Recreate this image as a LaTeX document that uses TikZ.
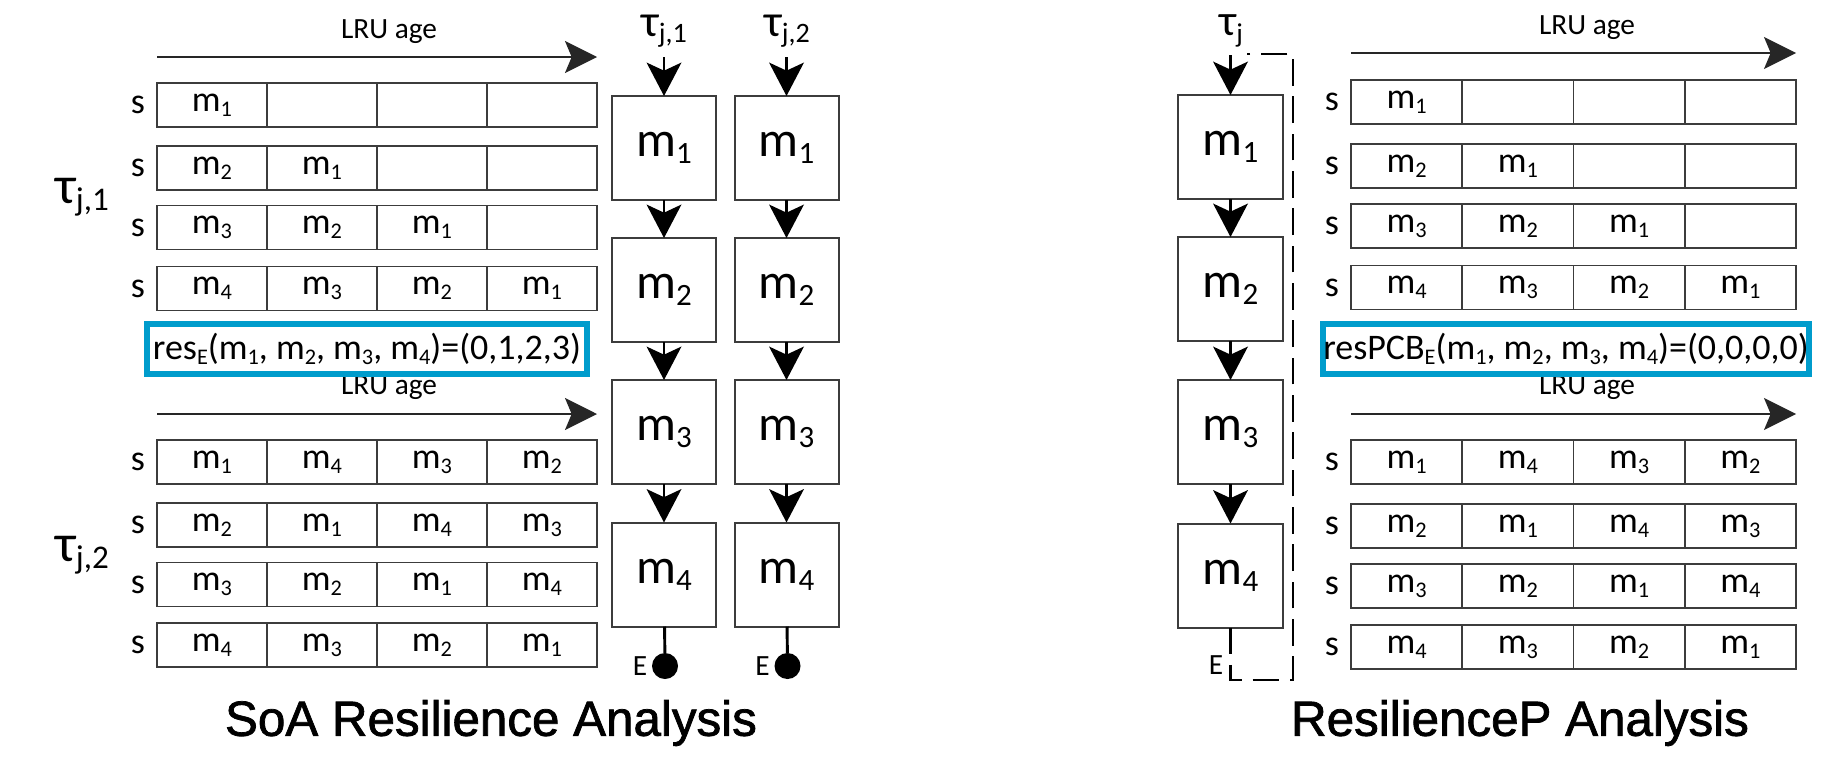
\documentclass[tikz,border=0pt]{standalone}
\usepackage{graphicx}
\usepackage{fontspec}
\setmainfont{Carlito}
\newfontfamily\titlefont[FakeBold=1.5]{Liberation Sans}
\usetikzlibrary{arrows.meta}
\newcommand\lsub[1]{\raisebox{-0.14em}{\scalebox{0.62}{#1}}}
\newcommand\cellc[1]{\ifnum#1=0 \else m\lsub{#1}\fi}
\definecolor{resblue}{RGB}{0,156,204}
\definecolor{edge}{RGB}{60,60,60}
\begin{document}
\begin{tikzpicture}[x=0.75pt,y=-0.75pt,
  cell/.style={draw=edge,line width=1.4pt,minimum width=82.5pt,minimum height=33pt,inner sep=0pt,outer sep=0pt,font=\fontsize{27}{30}\selectfont},
  rcell/.style={cell,minimum width=83.4pt},
  slbl/.style={inner sep=0pt,font=\fontsize{27}{30}\selectfont},
  mbox/.style={draw=edge,line width=1.5pt,minimum width=78pt,minimum height=78pt,inner sep=0pt,outer sep=0pt,font=\fontsize{37.5}{40}\selectfont},
  flow/.style={line width=1.9pt,-{Stealth[length=25pt,width=26pt,inset=6pt]}},
  lruarrow/.style={line width=1.5pt,draw=black!85,-{Stealth[length=24pt,width=24pt,inset=5pt]}},
  lru/.style={inner sep=0pt,font=\fontsize{22}{24}\selectfont},
  tau/.style={inner sep=0pt},
  enddot/.style={circle,fill=black,minimum size=19.5pt,inner sep=0pt,outer sep=0pt},
  elbl/.style={inner sep=0pt,font=\fontsize{22}{24}\selectfont},
  resbox/.style={draw=resblue,line width=4.5pt,minimum height=37.5pt,inner sep=0pt,font=\fontsize{27}{30}\selectfont},
  title/.style={inner sep=0pt,font=\titlefont\fontsize{37}{40}\selectfont},
  dashline/.style={line width=2pt,dash pattern=on 20pt off 8pt}
]
\useasboundingbox (0,0) rectangle (1826,764);

% ---------- left tables ----------
\node[lru] (LRUa) at (389,32) {LRU age};
\coordinate (La0) at (157,57); \coordinate (La1) at (597,57);
\draw[lruarrow] (La0) -- (La1);
\node[lru] (LRUb) at (389,388) {LRU age};
\coordinate (Lb0) at (157,414); \coordinate (Lb1) at (597,414);
\draw[lruarrow] (Lb0) -- (Lb1);

\foreach \r/\y/\a/\b/\c/\d in {1/105/1/0/0/0, 2/168/2/1/0/0, 3/227.5/3/2/1/0, 4/288.5/4/3/2/1,
  5/462/1/4/3/2, 6/525/2/1/4/3, 7/584.5/3/2/1/4, 8/645/4/3/2/1}{
  \node[slbl] (Ls\r) at (138,\y) {s};
  \foreach \k/\v in {1/\a,2/\b,3/\c,4/\d}{
    \node[cell] (L\r-\k) at ({157+110*(\k-0.5)},\y) {\cellc{\v}};
  }
}
\node[tau,font=\fontsize{40}{44}\selectfont] (tauL1) at (82,197) {τ\lsub{j,1}};
\node[tau,font=\fontsize{40}{44}\selectfont] (tauL2) at (82,555) {τ\lsub{j,2}};
\node[resbox,minimum width=330pt] (resL) at (367,349) {res\lsub{E}(m\lsub{1}, m\lsub{2}, m\lsub{3}, m\lsub{4})=(0,1,2,3)};

% ---------- left chains ----------
\foreach \col/\x in {A/664,C/786.5}{
  \node[mbox] (\col1) at (\x,148) {m\lsub{1}};
  \node[mbox] (\col2) at (\x,290) {m\lsub{2}};
  \node[mbox] (\col3) at (\x,432) {m\lsub{3}};
  \node[mbox] (\col4) at (\x,574.5) {m\lsub{4}};
  \coordinate (t\col) at (\x,57);
  \draw[flow] (t\col) -- (\col1);
  \draw[flow] (\col1) -- (\col2);
  \draw[flow] (\col2) -- (\col3);
  \draw[flow] (\col3) -- (\col4);
  \node[enddot] (E\col) at (\x+1,666) {};
  \draw[line width=2.2pt] (\col4) -- (E\col);
  \node[elbl] (El\col) at (\x-24,666) {E};
}
\node[tau,font=\fontsize{34}{38}\selectfont] (tauA) at (664,31) {τ\lsub{j,1}};
\node[tau,font=\fontsize{34}{38}\selectfont] (tauC) at (787,31) {τ\lsub{j,2}};

\node[title] (T1) at (491,723) {SoA Resilience Analysis};

% ---------- right chain ----------
\node[tau,font=\fontsize{33}{36}\selectfont] (tauB) at (1231,31) {τ\lsub{j}};
\coordinate (tB) at (1230.5,55);
\node[mbox,minimum width=78.75pt] (B1) at (1230.5,147) {m\lsub{1}};
\node[mbox,minimum width=78.75pt] (B2) at (1230.5,289) {m\lsub{2}};
\node[mbox,minimum width=78.75pt] (B3) at (1230.5,432) {m\lsub{3}};
\node[mbox,minimum width=78.75pt] (B4) at (1230.5,575.5) {m\lsub{4}};
\draw[flow] (tB) -- (B1);
\draw[flow] (B1) -- (B2);
\draw[flow] (B2) -- (B3);
\draw[flow] (B3) -- (B4);
\coordinate (d1) at (1230.5,680);
\coordinate (d2) at (1293,680);
\coordinate (d3) at (1293,54);
\coordinate (d4) at (1247,54);
\draw[dashline] (B4.south) -- (d1) -- (d2) -- (d3) -- (d4);
\node[elbl] (ElB) at (1216,665) {E};

% ---------- right tables ----------
\node[lru] (LRUc) at (1587,28) {LRU age};
\coordinate (Lc0) at (1351,53); \coordinate (Lc1) at (1796,53);
\draw[lruarrow] (Lc0) -- (Lc1);
\node[lru] (LRUd) at (1587,388) {LRU age};
\coordinate (Ld0) at (1351,414); \coordinate (Ld1) at (1796,414);
\draw[lruarrow] (Ld0) -- (Ld1);

\foreach \r/\y/\a/\b/\c/\d in {1/102/1/0/0/0, 2/166/2/1/0/0, 3/226/3/2/1/0, 4/287.5/4/3/2/1,
  5/462/1/4/3/2, 6/526/2/1/4/3, 7/586/3/2/1/4, 8/647/4/3/2/1}{
  \node[slbl] (Rs\r) at (1332,\y) {s};
  \foreach \k/\v in {1/\a,2/\b,3/\c,4/\d}{
    \node[rcell] (R\r-\k) at ({1351+111.25*(\k-0.5)},\y) {\cellc{\v}};
  }
}
\node[resbox,minimum width=363pt] (resR) at (1566,349) {resPCB\lsub{E}(m\lsub{1}, m\lsub{2}, m\lsub{3}, m\lsub{4})=(0,0,0,0)};

\node[title] (T2) at (1520,723) {ResilienceP Analysis};
\end{tikzpicture}
\end{document}
